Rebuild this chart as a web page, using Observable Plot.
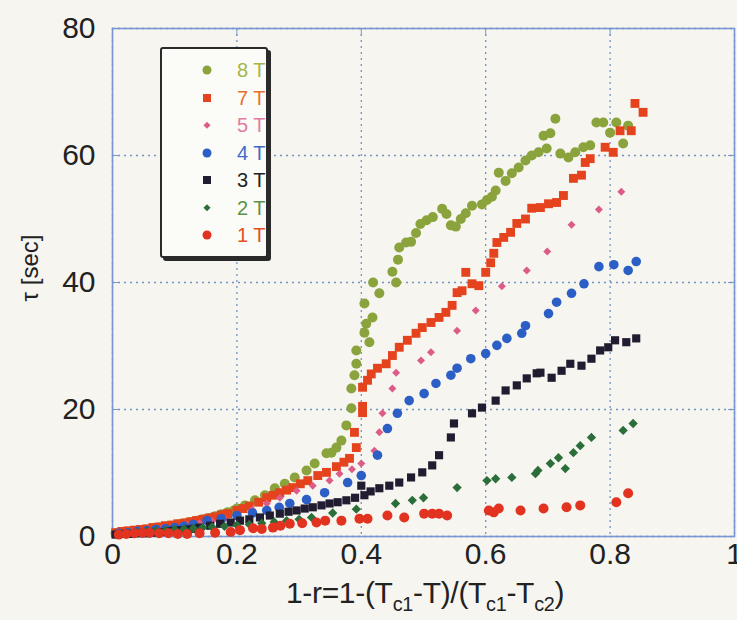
<!DOCTYPE html>
<html><head><meta charset="utf-8">
<script src="https://cdn.jsdelivr.net/npm/d3@7"></script>
<script src="https://cdn.jsdelivr.net/npm/@observablehq/plot@0.6"></script>
<style>
body{margin:0;background:#f6f5f0;font-family:"Liberation Sans",Arial,sans-serif;}
#wrap{position:relative;width:737px;height:620px;overflow:hidden;}
#legend{position:absolute;left:160px;top:47px;width:104px;height:207px;border:2px solid #2a2a2a;border-radius:3px;box-shadow:3px 3px 0 #2a2a2a;background:#fbfbf8;}
.row{position:absolute;left:0;width:104px;height:24px;}
.mk{position:absolute;top:50%;transform:translate(-50%,-50%);}
.lab{position:absolute;left:75px;top:0;line-height:24px;font-size:20px;}
#ylab{position:absolute;left:30px;top:268px;transform:translate(-50%,-50%) rotate(-90deg);font-size:24px;color:#222;white-space:nowrap;}
#xlab{position:absolute;left:425px;top:578px;transform:translateX(-50%);font-size:30px;line-height:30px;color:#222;white-space:nowrap;letter-spacing:-0.3px;}
#xlab sub{font-size:0.66em;vertical-align:-0.38em;line-height:0;}
</style>
</head><body>
<div id="wrap"></div>
<script>
const xTicks = [0, 0.2, 0.4, 0.6, 0.8, 1];
const yTicks = [0, 20, 40, 60, 80];
const seriesNames = ["8 T", "7 T", "5 T", "4 T", "3 T", "2 T", "1 T"];

const t8 = [[0.005,0.5],[0.015,0.6],[0.025,0.7],[0.035,0.9],[0.045,1.0],[0.055,1.1],[0.065,1.3],[0.075,1.4],[0.085,1.5],[0.095,1.7],[0.105,1.9],[0.115,2.1],[0.125,2.3],[0.135,2.5],[0.145,2.7],[0.155,2.9],[0.165,3.2],[0.175,3.5],[0.185,3.8],[0.195,4.1],[0.2,4.4],[0.213,4.9],[0.229,5.7],[0.245,6.5],[0.261,7.6],[0.277,8.3],[0.293,9.3],[0.312,10.4],[0.325,11.5],[0.344,13.1],[0.352,13.2],[0.36,14],[0.368,15.1],[0.376,17.5],[0.384,20.2],[0.384,23.3],[0.389,25.4],[0.392,27.2],[0.392,29.3],[0.413,30.6],[0.405,32.1],[0.408,33.5],[0.418,34.5],[0.405,36.7],[0.429,38.3],[0.419,40],[0.456,40],[0.45,41.7],[0.459,43.6],[0.461,45.5],[0.472,46.3],[0.48,46.4],[0.488,47.8],[0.495,49.2],[0.505,49.8],[0.515,50.3],[0.53,51.6],[0.537,50.8],[0.544,49],[0.552,48.8],[0.56,50],[0.568,50.9],[0.578,52.1],[0.594,52.3],[0.602,53],[0.61,53.5],[0.616,54.5],[0.621,57.3],[0.632,56],[0.642,57.2],[0.653,58.1],[0.664,59.2],[0.674,60],[0.685,60.5],[0.693,63.1],[0.698,61.1],[0.704,63.5],[0.712,65.8],[0.72,60.3],[0.733,59.7],[0.744,60.5],[0.757,61.3],[0.768,61.6],[0.778,65.2],[0.789,65.2],[0.8,63.6],[0.81,65.2],[0.821,61.9],[0.829,64.7]];

const t7 = [[0.005,0.6],[0.015,0.8],[0.025,0.9],[0.035,1.0],[0.045,1.1],[0.055,1.2],[0.065,1.4],[0.075,1.5],[0.085,1.7],[0.095,1.8],[0.105,2.0],[0.115,2.1],[0.125,2.3],[0.135,2.5],[0.145,2.7],[0.155,2.9],[0.165,3.1],[0.175,3.4],[0.185,3.6],[0.2,4.1],[0.21,4.4],[0.22,4.8],[0.235,5.4],[0.248,6.1],[0.258,6.5],[0.269,6.9],[0.28,7.3],[0.29,7.7],[0.302,8.3],[0.314,8.8],[0.33,9.6],[0.344,10.1],[0.36,11],[0.372,11.7],[0.381,12.3],[0.392,14],[0.389,16.4],[0.402,19.5],[0.402,20.5],[0.402,23.5],[0.41,24.6],[0.416,25.6],[0.426,26.5],[0.44,27.2],[0.45,28.5],[0.461,29.8],[0.474,30.9],[0.488,32],[0.498,32.9],[0.512,33.7],[0.525,34.5],[0.536,35.3],[0.546,36.4],[0.554,38.4],[0.562,38.7],[0.568,41.6],[0.578,39.8],[0.589,39.5],[0.6,41.6],[0.608,43.1],[0.613,44.6],[0.618,46.3],[0.629,47.1],[0.64,47.9],[0.65,49.3],[0.664,50],[0.674,51.7],[0.688,51.8],[0.701,52.4],[0.714,52.6],[0.725,53.7],[0.741,56.4],[0.754,56.9],[0.76,58.9],[0.768,59.5],[0.792,61.3],[0.805,60.5],[0.816,63.9],[0.834,63.9],[0.84,68.2],[0.853,66.8]];

const t5 = [[0.01,0.5],[0.03,0.7],[0.05,0.9],[0.08,1.3],[0.1,1.5],[0.12,1.8],[0.14,2.1],[0.16,2.4],[0.18,2.8],[0.2,3.2],[0.225,4.2],[0.248,5.2],[0.269,6.1],[0.296,7.2],[0.322,8],[0.349,8.8],[0.365,9.9],[0.385,10.6],[0.4,11.5],[0.421,13.5],[0.429,16.4],[0.434,19.4],[0.45,23.3],[0.456,25.8],[0.496,27.7],[0.512,29],[0.554,32.4],[0.584,35.6],[0.626,39.4],[0.666,41.9],[0.699,44.9],[0.738,49.1],[0.782,51.5],[0.818,54.3]];

const t4 = [[0.01,0.5],[0.025,0.6],[0.04,0.8],[0.055,0.9],[0.07,1.1],[0.085,1.2],[0.1,1.4],[0.115,1.6],[0.13,1.9],[0.152,2.5],[0.175,2.8],[0.2,3.3],[0.225,3.7],[0.248,4.1],[0.268,4.6],[0.285,5.2],[0.312,5.8],[0.341,6.9],[0.378,8.5],[0.4,9.6],[0.426,12.8],[0.442,17],[0.458,19.4],[0.477,21.4],[0.501,22.5],[0.52,24.1],[0.544,25.4],[0.554,26.5],[0.576,28],[0.6,28.8],[0.618,30.1],[0.634,31.2],[0.658,32],[0.664,33.2],[0.701,35.1],[0.714,36.9],[0.738,38.3],[0.758,39.8],[0.782,42.5],[0.806,42.8],[0.829,41.9],[0.842,43.3]];

const t3 = [[0.005,0.3],[0.018,0.4],[0.03,0.4],[0.043,0.5],[0.056,0.5],[0.066,0.6],[0.077,0.7],[0.088,0.8],[0.098,0.9],[0.11,1.0],[0.12,1.1],[0.13,1.2],[0.14,1.4],[0.157,1.7],[0.173,2],[0.19,2.2],[0.205,2.5],[0.22,2.7],[0.237,3],[0.253,3.3],[0.269,3.6],[0.283,3.9],[0.296,4.1],[0.309,4.4],[0.322,4.6],[0.336,4.9],[0.349,5.2],[0.362,5.4],[0.376,5.7],[0.39,6.1],[0.405,6.5],[0.4,8],[0.415,7.1],[0.429,7.6],[0.445,8],[0.461,8.5],[0.48,9.3],[0.498,10.1],[0.514,11.2],[0.525,12.8],[0.544,15.6],[0.549,17.8],[0.578,19.4],[0.594,20.3],[0.616,21.4],[0.632,23],[0.65,23.8],[0.666,24.9],[0.682,25.7],[0.688,25.8],[0.706,25],[0.722,26.1],[0.736,27.2],[0.754,26.9],[0.77,28],[0.784,29.3],[0.797,29.8],[0.808,30.9],[0.826,30.6],[0.842,31.2]];

const t2 = [[0.01,0.4],[0.025,0.5],[0.04,0.7],[0.055,0.8],[0.07,0.9],[0.085,1.0],[0.1,1.1],[0.115,1.2],[0.13,1.3],[0.145,1.4],[0.16,1.5],[0.18,1.6],[0.2,1.8],[0.22,1.9],[0.24,2.1],[0.26,2.3],[0.28,2.5],[0.3,2.7],[0.32,3.0],[0.354,3.7],[0.392,4.3],[0.455,5.2],[0.482,5.7],[0.5,6.1],[0.554,7.7],[0.602,8.8],[0.616,9.1],[0.642,9.3],[0.68,9.9],[0.684,10.4],[0.704,11.5],[0.717,12.4],[0.728,10.7],[0.741,13.2],[0.752,14.3],[0.77,15.6],[0.821,16.7],[0.837,17.8]];

const t1 = [[0.01,0.3],[0.022,0.4],[0.035,0.5],[0.048,0.6],[0.06,0.6],[0.075,0.5],[0.09,0.5],[0.105,0.4],[0.12,0.4],[0.14,0.5],[0.165,0.6],[0.19,0.7],[0.205,1.0],[0.226,1.3],[0.24,1.2],[0.258,1.4],[0.27,1.7],[0.285,2],[0.305,2.1],[0.328,2.2],[0.342,2.5],[0.368,2.5],[0.397,2.8],[0.41,2.8],[0.442,3.3],[0.469,3],[0.501,3.6],[0.514,3.6],[0.525,3.6],[0.538,3.3],[0.605,4.1],[0.613,3.8],[0.621,4.4],[0.656,4.1],[0.693,4.4],[0.73,4.6],[0.752,4.9],[0.81,5.4],[0.829,6.8]];

const seriesData = [t8, t7, t5, t4, t3, t2, t1];
const styles = [
  {symbol:"circle",   fill:"#8aa33c", r:5.0, text:"#a3b648"},
  {symbol:"square",   fill:"#e5421e", r:5.0, text:"#e8702e"},
  {symbol:"diamond2", fill:"#dc5c88", r:3.6, text:"#e07ca2"},
  {symbol:"circle",   fill:"#2c5fc6", r:4.8, text:"#3d6cc6"},
  {symbol:"square",   fill:"#221c30", r:4.6, text:"#222222"},
  {symbol:"diamond2", fill:"#2b6e3a", r:4.2, text:"#5c9444"},
  {symbol:"circle",   fill:"#e1331f", r:5.0, text:"#e2501f"}
];

const fmt = d => String(d);
const dots = seriesData.map((arr, i) => Plot.dot(arr.map(([x, y]) => ({x, y})), {
  x: "x", y: "y", symbol: () => styles[i].symbol, fill: styles[i].fill, stroke: "none", r: styles[i].r
}));

const chart = Plot.plot({
  width: 737, height: 620,
  marginLeft: 112, marginRight: 3, marginTop: 28, marginBottom: 84,
  style: {background: "transparent", fontFamily: "Liberation Sans, Arial, sans-serif", fontSize: "30px", color: "#222", overflow: "visible"},
  x: {domain: [0, 1]},
  y: {domain: [0, 80]},
  symbol: {type: "identity"},
  marks: [
    Plot.gridX(xTicks, {stroke: "#5b82b8", strokeOpacity: 0.85, strokeDasharray: "2,4", strokeWidth: 1.3}),
    Plot.gridY(yTicks, {stroke: "#5b82b8", strokeOpacity: 0.85, strokeDasharray: "2,4", strokeWidth: 1.3}),
    Plot.frame({stroke: "#7896d2", strokeWidth: 1.6}),
    Plot.axisY(yTicks, {anchor: "left", tickSize: -7, tickFormat: () => "", label: null, stroke: "#7896d2"}),
    Plot.axisY(yTicks, {anchor: "right", tickSize: -7, tickFormat: () => "", label: null, stroke: "#7896d2"}),
    Plot.axisX(xTicks, {anchor: "top", tickSize: -7, tickFormat: () => "", label: null, stroke: "#7896d2"}),
    Plot.axisX(xTicks, {anchor: "bottom", tickSize: 0, tickPadding: 6, tickFormat: fmt, label: null, fill: "#222"}),
    Plot.axisY(yTicks, {anchor: "left", tickSize: 0, tickPadding: 17, tickFormat: fmt, label: null, fill: "#222"}),
    ...dots
  ]
});

const wrap = document.getElementById("wrap");
wrap.appendChild(chart);

// legend
const legend = document.createElement("div");
legend.id = "legend";
seriesNames.forEach((name, i) => {
  const row = document.createElement("div");
  row.className = "row";
  row.style.top = (9 + i * 27.5) + "px";
  const mk = document.createElement("div");
  mk.className = "mk";
  const s = styles[i];
  mk.style.left = "45px";
  mk.style.background = s.fill;
  if (s.symbol === "circle") { mk.style.width = mk.style.height = "9px"; mk.style.borderRadius = "50%"; }
  else if (s.symbol === "square") { mk.style.width = mk.style.height = "8px"; }
  else { const d = s.r * 1.3; mk.style.width = mk.style.height = d + "px"; mk.style.transform = "translate(-50%,-50%) rotate(45deg)"; }
  const lab = document.createElement("div");
  lab.className = "lab";
  lab.style.color = s.text;
  lab.textContent = name;
  row.appendChild(mk); row.appendChild(lab);
  legend.appendChild(row);
});
wrap.appendChild(legend);

const ylab = document.createElement("div");
ylab.id = "ylab"; ylab.textContent = "τ [sec]";
wrap.appendChild(ylab);

const xlab = document.createElement("div");
xlab.id = "xlab";
xlab.innerHTML = "1-r=1-(T<sub>c1</sub>-T)/(T<sub>c1</sub>-T<sub>c2</sub>)";
wrap.appendChild(xlab);
</script>
</body></html>
